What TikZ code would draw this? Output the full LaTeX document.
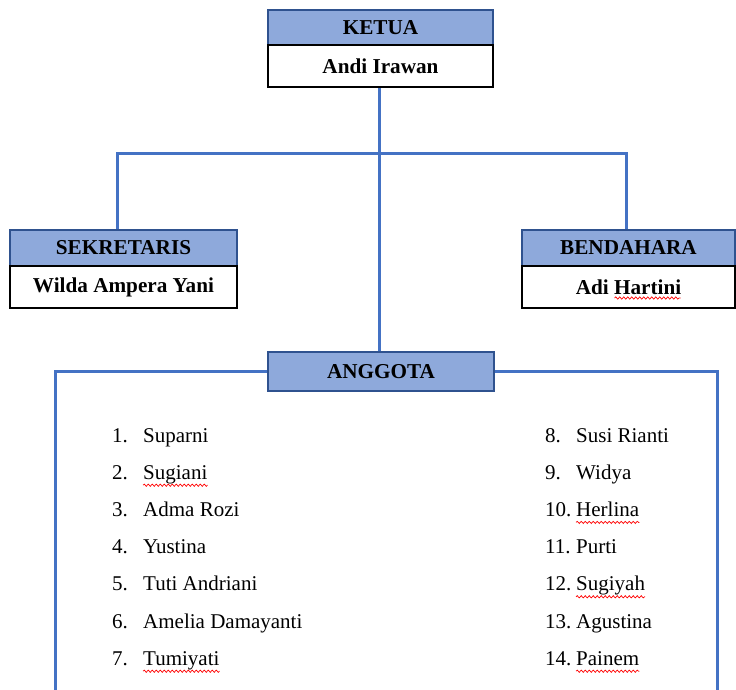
\documentclass[tikz,border=0pt]{standalone}
\usepackage{fontspec}
\setmainfont{Liberation Serif}
\usetikzlibrary{decorations.pathmorphing,backgrounds}
\definecolor{hdrfill}{HTML}{8EA9DB}
\definecolor{hdrline}{HTML}{2F528F}
\definecolor{conn}{HTML}{4472C4}
\begin{document}
\begin{tikzpicture}[x=1pt,y=-1pt,
  hdr/.style={draw=hdrline,line width=1.2pt,fill=hdrfill,inner sep=0pt,
    font=\fontsize{21.2}{24}\selectfont\bfseries},
  namebox/.style={draw=black,line width=1.8pt,fill=white,inner sep=0pt,
    font=\fontsize{21.2}{24}\selectfont\bfseries},
  link/.style={draw=conn,line width=3pt},
  item/.style={anchor=base west,inner sep=0pt,font=\fontsize{21}{25}\selectfont},
  spell/.style={draw=red,line width=0.7pt,decorate,
    decoration={snake,amplitude=1.1pt,segment length=4pt}}]
\useasboundingbox (0,0) rectangle (736,690);
\coordinate (jn) at (379,153);
\coordinate (bl) at (55,690);
\coordinate (br) at (717,690);
% nodes
\node[hdr,minimum width=225pt,minimum height=35pt] (ketuaH) at (380.5,27.5) {KETUA};
\node[namebox,minimum width=225pt,minimum height=42pt] (ketuaN) at (380.5,66) {Andi Irawan};
\node[hdr,minimum width=227pt,minimum height=36pt] (sekH) at (123.5,248) {SEKRETARIS};
\node[namebox,minimum width=227pt,minimum height=42pt] (sekN) at (123.5,287) {Wilda Ampera Yani};
\node[hdr,minimum width=213pt,minimum height=36pt] (benH) at (628.5,248) {BENDAHARA};
\node[namebox,minimum width=213pt,minimum height=42pt] (benN) at (628.5,287) {Adi Hartini};
\node[hdr,minimum width=226pt,minimum height=39pt] (angH) at (381,371.5) {ANGGOTA};
% connectors behind boxes
\begin{scope}[on background layer]
\draw[link] ([xshift=-1.5pt]ketuaN.south) -- ([xshift=-1.5pt]ketuaN.south |- angH.north);
\draw[link] ([xshift=-6.5pt]sekH.north) |- (jn) -| ([xshift=-2.5pt]benH.north);
\draw[link] (angH.west) -| (bl);
\draw[link] (angH.east) -| (br);
\end{scope}
% spelling mark under "Hartini"
\draw[spell] ([xshift=-14pt,yshift=-11pt]benN.center) -- ([xshift=52pt,yshift=-11pt]benN.center);
% list
\foreach \n/\t/\k in {1/Suparni/a1,2/Sugiani/a2,3/Adma Rozi/a3,4/Yustina/a4,5/Tuti Andriani/a5,6/Amelia Damayanti/a6,7/Tumiyati/a7}{
  \node[item] (n\k) at (112,{442+37.2*(\n-1)}) {\n.};
  \node[item] (\k) at (143,{442+37.2*(\n-1)}) {\t};
}
\foreach \n/\t/\k in {8/Susi Rianti/b8,9/Widya/b9,10/Herlina/b10,11/Purti/b11,12/Sugiyah/b12,13/Agustina/b13,14/Painem/b14}{
  \node[item] (n\k) at (545,{442+37.2*(\n-8)}) {\n.};
  \node[item] (\k) at (576,{442+37.2*(\n-8)}) {\t};
}
\foreach \k in {a2,a7,b10,b12,b14}{
  \draw[spell] ([yshift=-6pt]\k.base west) -- ([yshift=-6pt]\k.base east);
}
\end{tikzpicture}
\end{document}
